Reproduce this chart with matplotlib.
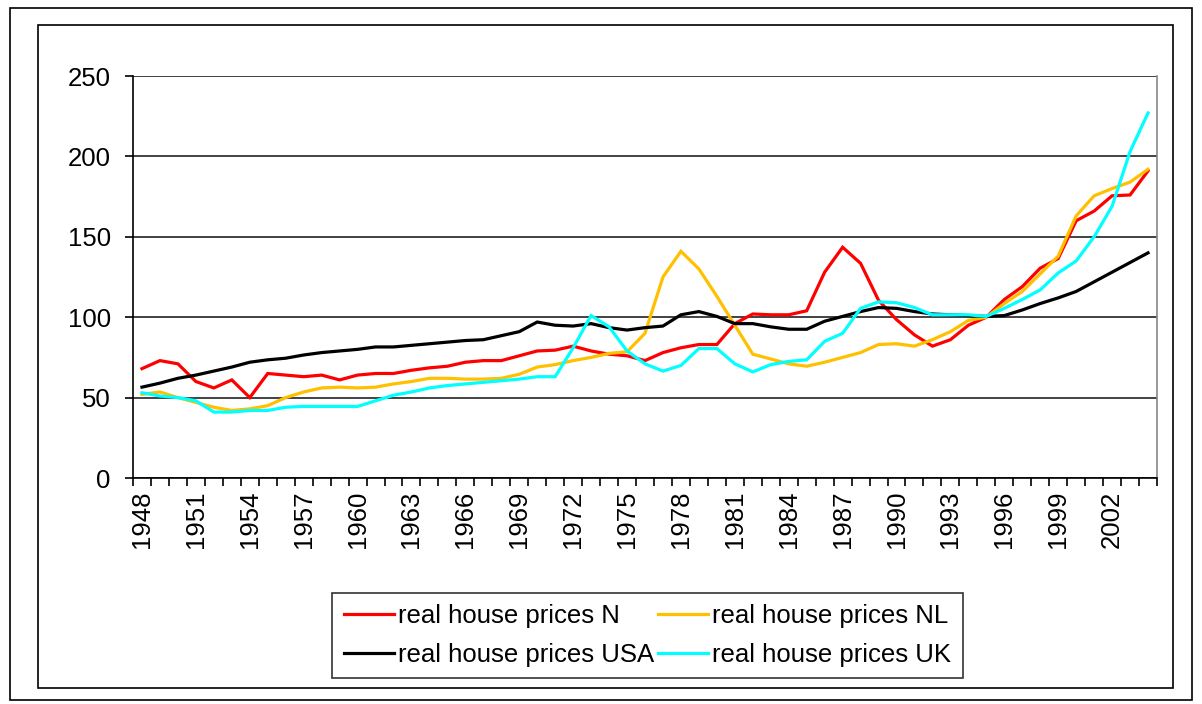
import matplotlib
matplotlib.use("Agg")
import matplotlib.pyplot as plt
import numpy as np
from matplotlib.patches import Rectangle
from matplotlib.ticker import FixedLocator

plt.rcParams['font.family'] = ['Liberation Sans', 'DejaVu Sans']

years = list(range(1948, 2005))

price_n = [68, 73, 71, 60, 56, 61, 50, 65, 64, 63, 64, 61, 64, 65, 65, 67, 68.5, 69.5, 72, 73,
           73, 76, 79, 79.5, 82, 79, 77, 76, 73, 78, 81, 83, 83, 96, 102, 101.5, 101.5, 104, 128, 143.5,
           133.5, 110.5, 98.5, 89, 82, 86, 95, 100, 111, 119, 130.5, 136.5, 160, 166, 175.5, 176, 191]
price_nl = [52, 53.5, 50, 47, 44, 42, 43, 45, 50, 53.5, 56, 56.5, 56, 56.5, 58.5, 60, 62, 62, 61.5, 61.5,
            62, 64.5, 69, 70.5, 73, 75, 77.5, 78.5, 90, 125, 141, 130, 113, 95, 77, 74, 71, 69.5, 72, 75,
            78, 83, 83.5, 82, 86, 91, 98, 100, 108.5, 116, 127, 138, 163, 175.5, 180, 184, 192]
price_usa = [56.5, 59, 62, 64, 66.5, 69, 72, 73.5, 74.5, 76.5, 78, 79, 80, 81.5, 81.5, 82.5, 83.5, 84.5, 85.5, 86,
             88.5, 91, 97, 95, 94.5, 96, 93.5, 92, 93.5, 94.5, 101.5, 103.5, 100.5, 96, 96, 94, 92.5, 92.5, 97.5, 100.5,
             103.5, 106, 105.5, 103.5, 102, 101.5, 101, 100.5, 101, 104.5, 108.5, 112, 116, 122, 128, 134, 140]
price_uk = [53, 51, 50, 48, 41, 41, 42, 42, 44, 44.5, 44.5, 44.5, 44.5, 48, 51.5, 53.5, 56, 57.5, 58.5, 59.5,
            60.5, 61.5, 63, 63, 81, 101, 94, 79, 71, 66.5, 70, 80.5, 80.5, 71, 66, 70.5, 72.5, 73.5, 85, 90,
            105.5, 109.5, 109, 106, 101.5, 101.5, 101.5, 100.5, 105.5, 111, 117, 127.5, 135, 150, 169, 203, 227]

labels = ["real house prices N", "real house prices NL", "real house prices USA", "real house prices UK"]
colors = ["#FF0000", "#FFC000", "#000000", "#00FFFF"]
y_ticks = [0, 50, 100, 150, 200, 250]

W, H = 1202, 704
fig = plt.figure(figsize=(W / 100, H / 100), dpi=100)
fig.patch.set_facecolor("white")

# outer frame and chart area frame
fig.patches.append(Rectangle((10 / W, 1 - 700 / H), 1182 / W, 692 / H, transform=fig.transFigure,
                             fill=False, edgecolor="black", linewidth=1.2))
fig.patches.append(Rectangle((38 / W, 1 - 688 / H), 1135 / W, 663 / H, transform=fig.transFigure,
                             fill=False, edgecolor="black", linewidth=1.2))

ax = fig.add_axes([133 / W, 1 - 478 / H, (1157 - 133) / W, (478 - 76) / H])
x = np.arange(len(years))
series = [price_n, price_nl, price_usa, price_uk]
lines = []
for vals, col, lab in zip(series, colors, labels):
    ln, = ax.plot(x, vals, color=col, linewidth=2.3, label=lab, solid_joinstyle="miter")
    lines.append(ln)

ax.set_xlim(-0.5, len(years) - 0.5)
ax.set_ylim(0, 250)
ax.set_yticks(y_ticks)
ax.set_yticklabels([str(v) for v in y_ticks])
ax.yaxis.grid(True, color="#222222", linewidth=1.2)
ax.set_axisbelow(True)

# tick marks at category boundaries, labels at centres every 3 years
ax.xaxis.set_major_locator(FixedLocator(np.arange(len(years) + 1) - 0.5))
ax.set_xticklabels([])
ax.xaxis.set_minor_locator(FixedLocator(x[::3]))
ax.set_xticklabels([str(y) for y in years[::3]], minor=True, rotation=90)
ax.tick_params(axis="x", which="major", length=6, width=1.2, direction="out")
ax.tick_params(axis="x", which="minor", length=0, pad=9, labelsize=18.5)
ax.tick_params(axis="y", length=6, width=1.2, direction="out", labelsize=18.5, pad=10)

for s in ["left", "bottom"]:
    ax.spines[s].set_color("black")
    ax.spines[s].set_linewidth(1.2)
ax.spines["top"].set_visible(False)
ax.spines["right"].set_color("#888888")
ax.spines["right"].set_linewidth(1.2)

leg = fig.legend([lines[0], lines[2], lines[1], lines[3]],
                 [labels[0], labels[2], labels[1], labels[3]],
                 ncol=2, loc="center", bbox_to_anchor=(647.5 / W, 1 - 635.5 / H),
                 fontsize=18.5, frameon=True, fancybox=False, shadow=False,
                 handlelength=1.95, handletextpad=0.15, columnspacing=0.15,
                 labelspacing=0.55, borderpad=0.45, borderaxespad=0)
leg.get_frame().set_edgecolor("black")
leg.get_frame().set_linewidth(1.2)

fig.savefig("out.png", dpi=100, facecolor="white")
